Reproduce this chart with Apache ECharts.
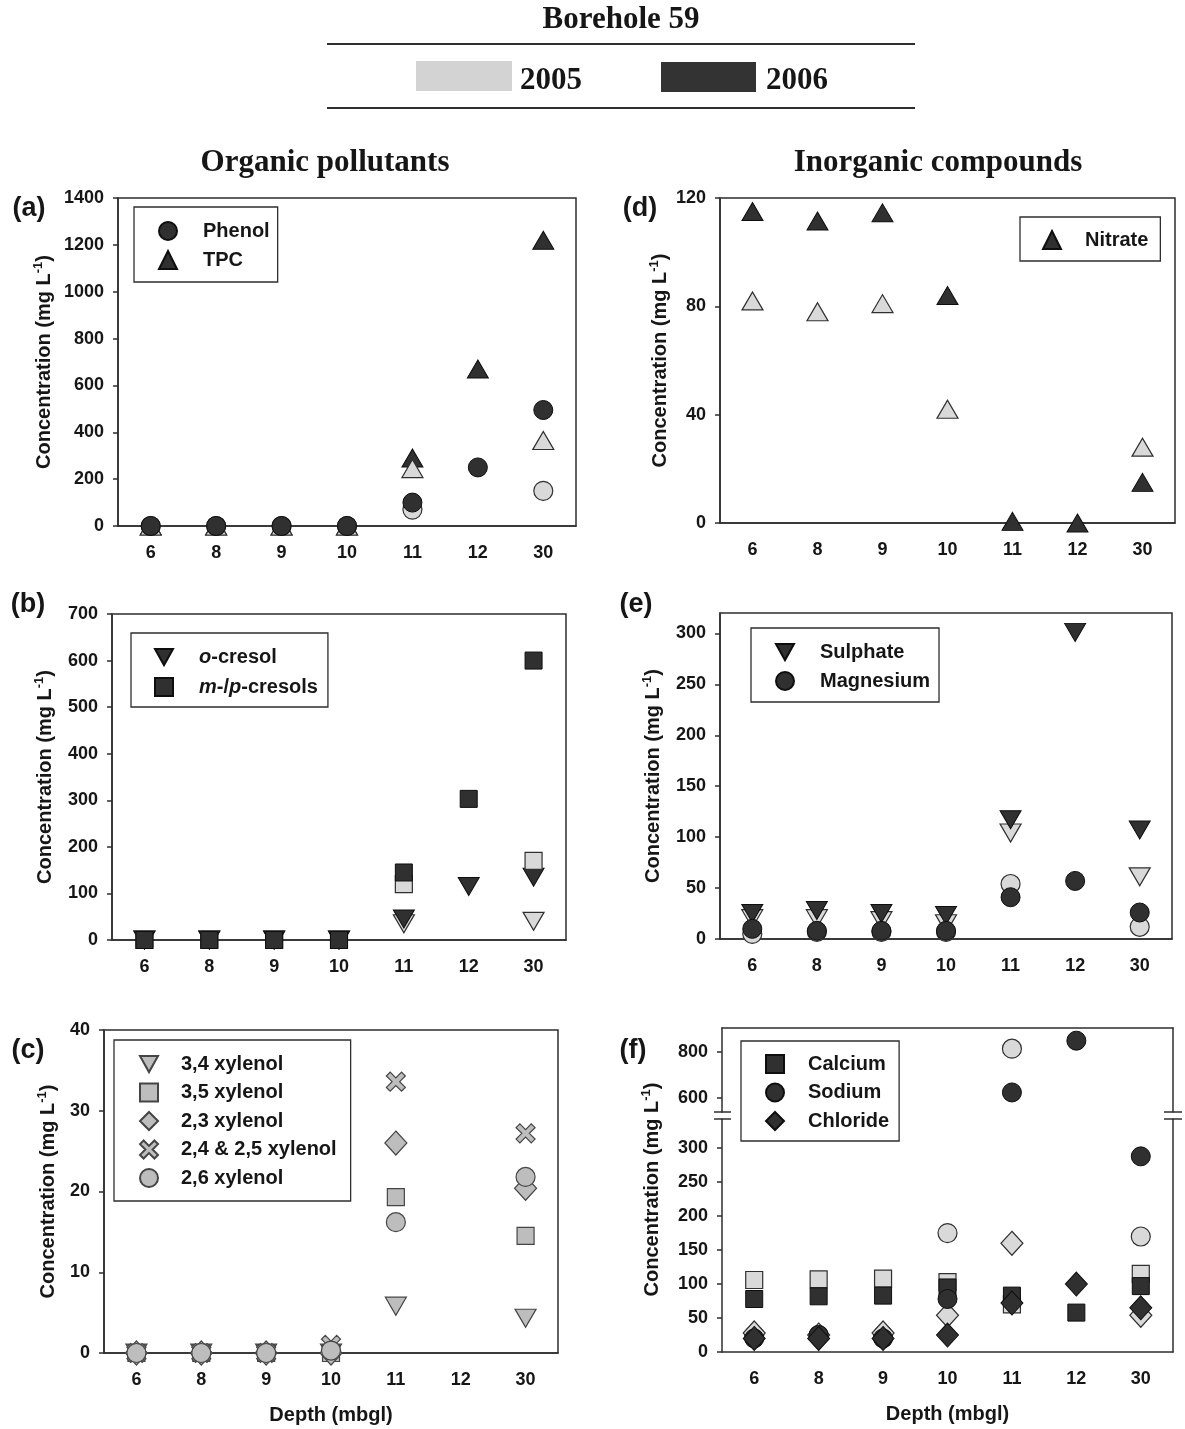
<!DOCTYPE html>
<html>
<head>
<meta charset="utf-8">
<title>Borehole 59</title>
<script src="https://cdn.jsdelivr.net/npm/echarts@6.0.0/dist/echarts.min.js"></script>
<style>
  html, body { margin: 0; padding: 0; background: #fff; }
  #chart { width: 1185px; height: 1429px; }
</style>
</head>
<body>
<div id="chart"></div>
<script>
// Borehole 59: concentrations (mg/L) by depth, 2005 (light) and 2006 (dark)
const depths = ['6', '8', '9', '10', '11', '12', '30'];
const years = ['2005', '2006'];

// (a) organic
const phenol2005 = [0, 0, 0, 0, 70, null, 150];
const phenol2006 = [0, 0, 0, 0, 100, 250, 495];
const tpc2005 = [0, 0, 0, 0, 245, null, 365];
const tpc2006 = [0, 0, 0, 0, 290, 670, 1220];

// (b)
const oCresol2005 = [0, 0, 0, 0, 35, null, 40];
const oCresol2006 = [0, 0, 0, 0, 45, 115, 135];
const mpCresol2005 = [0, 0, 0, 0, 120, null, 170];
const mpCresol2006 = [0, 0, 0, 0, 145, 303, 600];

// (c) xylenols
const xylenol34 = [0, 0, 0, 0, 5.8, null, 4.3];
const xylenol35 = [0, 0, 0, 0, 19.3, null, 14.5];
const xylenol23 = [0, 0, 0, 0, 26, null, 20.4];
const xylenol2425 = [0, 0, 0, 1, 33.6, null, 27.2];
const xylenol26 = [0, 0, 0, 0.3, 16.2, null, 21.8];

// (d) inorganic
const nitrate2005 = [82, 78, 81, 42, null, null, 28];
const nitrate2006 = [115, 111.5, 114.5, 84, 0.6, 0, 15];

// (e)
const sulphate2005 = [20, 20, 18, 15, 104, null, 61];
const sulphate2006 = [25, 28, 25, 23, 117, 301, 107];
const magnesium2005 = [5, 7, 7, 7, 54, null, 12];
const magnesium2006 = [10, 8, 8, 8, 41, 57, 26];

// (f)
const calcium2005 = [106, 107, 108, 103, 70, null, 115];
const calcium2006 = [78, 82, 83, 95, 83, 58, 97];
const sodium2005 = [25, 25, 25, 175, 815, null, 170];
const sodium2006 = [20, 25, 20, 78, 625, 850, 288];
const chloride2005 = [28, 25, 28, 54, 160, null, 54];
const chloride2006 = [20, 20, 20, 25, 72, 100, 65];

// tick labels
const ticksA = [0, 200, 400, 600, 800, 1000, 1200, 1400];
const ticksB = [0, 100, 200, 300, 400, 500, 600, 700];
const ticksC = [0, 10, 20, 30, 40];
const ticksD = [0, 40, 80, 120];
const ticksE = [0, 50, 100, 150, 200, 250, 300];
const ticksFLow = [0, 50, 100, 150, 200, 250, 300];
const ticksFHigh = [600, 800];

const SANS = '"Liberation Sans", Arial, sans-serif';
const SERIF = '"Liberation Serif", "Times New Roman", serif';
const AXIS = '#2e2e2e';
const TXT = '#161616';

const SHAPES = {
    circle: { symbol: 'circle', size: 19 },
    up: { symbol: 'triangle', size: [21, 18] },
    down: { symbol: 'path://M0,0 L20,0 L10,18 Z', size: [21, 18] },
    square: { symbol: 'rect', size: 17 },
    diamond: { symbol: 'diamond', size: [22, 24] },
    cross: { symbol: 'path://M0,2 L2,0 L5,3 L8,0 L10,2 L7,5 L10,8 L8,10 L5,7 L2,10 L0,8 L3,5 Z', size: 19 }
};
const TONES = {
    dark: { color: '#303030', borderColor: '#0e0e0e', borderWidth: 1, opacity: 1 },
    light: { color: '#d9d9d9', borderColor: '#303030', borderWidth: 1.2, opacity: 1 },
    mid: { color: '#bdbdbd', borderColor: '#454545', borderWidth: 1.2, opacity: 1 }
};

const grids = [], xAxes = [], yAxes = [], series = [], legends = [];
const lineStyle = { color: AXIS, width: 1.5 };
const tickFont = { fontSize: 18, fontWeight: 'bold', color: TXT, fontFamily: SANS };
const nameFont = {
    fontSize: 20, fontWeight: 'bold', color: TXT, fontFamily: SANS, lineHeight: 24,
    rich: { sup: { fontSize: 13, fontWeight: 'bold', fontFamily: SANS, color: TXT, verticalAlign: 'top', lineHeight: 14 } }
};
const Y_NAME = 'Concentration (mg L{sup|-1})';

function panel(p) {
    const gi = grids.length;
    grids.push({
        left: p.left, top: p.top, width: p.width, height: p.height,
        show: !p.open, borderColor: AXIS, borderWidth: 1.5
    });
    xAxes.push({
        gridIndex: gi, type: 'category', data: depths, position: p.xPos || 'bottom',
        axisLine: { show: true, onZero: false, lineStyle },
        axisTick: { show: false },
        axisLabel: Object.assign({ show: p.xLabels !== false, margin: 18 }, tickFont),
        splitLine: { show: false },
        name: p.xName || '', nameLocation: 'middle', nameGap: 52,
        nameTextStyle: { fontSize: 20, fontWeight: 'bold', color: TXT, fontFamily: SANS }
    });
    const yi = yAxes.length;
    yAxes.push({
        gridIndex: gi, type: 'value', position: 'left', min: p.min, max: p.max,
        axisLine: { show: true, lineStyle },
        axisTick: { show: true, inside: false, length: 5, customValues: p.ticks, lineStyle },
        axisLabel: Object.assign({ customValues: p.ticks, margin: 14, formatter: v => String(v) }, tickFont),
        splitLine: { show: false },
        name: p.yName ? Y_NAME : '', nameLocation: 'middle', nameGap: p.nameGap || 60,
        nameTextStyle: Object.assign({}, nameFont, p.namePad ? { padding: p.namePad } : {})
    });
    if (p.open) {
        // right-hand frame line for the broken panel
        yAxes.push({
            gridIndex: gi, type: 'value', position: 'right', min: p.min, max: p.max,
            axisLine: { show: true, lineStyle }, axisTick: { show: false },
            axisLabel: { show: false }, splitLine: { show: false }
        });
    }
    return { x: gi, y: yi };
}

function dots(name, data, ax, shape, tone) {
    const s = SHAPES[shape];
    return {
        type: 'scatter', name, data, xAxisIndex: ax.x, yAxisIndex: ax.y,
        symbol: s.symbol, symbolSize: s.size,
        itemStyle: TONES[tone], emphasis: { disabled: true }, silent: true
    };
}

function legendBox(names, left, top, pad, gap, textPad) {
    return {
        orient: 'vertical', left, top, padding: pad, itemGap: gap,
        itemWidth: 18, itemHeight: 18, borderColor: AXIS, borderWidth: 1.3,
        data: names, selectedMode: false,
        formatter: name => {
            if (name === 'o-cresol') return '{i|o}-cresol';
            if (name === 'm-/p-cresols') return '{i|m}-/{i|p}-cresols';
            return name;
        },
        textStyle: {
            fontSize: 20, fontWeight: 'bold', fontFamily: SANS, color: TXT,
            lineHeight: 18, padding: [0, 0, 0, textPad],
            rich: { i: { fontSize: 20, fontWeight: 'bold', fontStyle: 'italic', fontFamily: SANS, color: TXT } }
        }
    };
}

// (a)
const a = panel({ left: 118, top: 198, width: 458, height: 328, min: 0, max: 1400, ticks: ticksA, yName: true, nameGap: 62 });
series.push(
    dots('TPC', tpc2006, a, 'up', 'dark'),
    dots('TPC 2005', tpc2005, a, 'up', 'light'),
    dots('Phenol 2005', phenol2005, a, 'circle', 'light'),
    dots('Phenol', phenol2006, a, 'circle', 'dark')
);
legends.push(legendBox(['Phenol', 'TPC'], 134, 207, [14, 8, 12, 24], 9, 21));

// (b)
const b = panel({ left: 112, top: 614, width: 454, height: 326, min: 0, max: 700, ticks: ticksB, yName: true, nameGap: 55 });
series.push(
    dots('o-cresol 2005', oCresol2005, b, 'down', 'light'),
    dots('o-cresol', oCresol2006, b, 'down', 'dark'),
    dots('m-/p-cresols 2005', mpCresol2005, b, 'square', 'light'),
    dots('m-/p-cresols', mpCresol2006, b, 'square', 'dark')
);
legends.push(legendBox(['o-cresol', 'm-/p-cresols'], 131, 633, [14, 10, 10, 23], 10, 21));

// (c)
const c = panel({ left: 104, top: 1030, width: 454, height: 323, min: 0, max: 40, ticks: ticksC, yName: true, nameGap: 44, xName: 'Depth (mbgl)' });
series.push(
    dots('3,4 xylenol', xylenol34, c, 'down', 'mid'),
    dots('3,5 xylenol', xylenol35, c, 'square', 'mid'),
    dots('2,3 xylenol', xylenol23, c, 'diamond', 'mid'),
    dots('2,4 & 2,5 xylenol', xylenol2425, c, 'cross', 'mid'),
    dots('2,6 xylenol', xylenol26, c, 'circle', 'mid')
);
legends.push(legendBox(['3,4 xylenol', '3,5 xylenol', '2,3 xylenol', '2,4 & 2,5 xylenol', '2,6 xylenol'], 114, 1040, [14, 14, 13, 25], 8.5, 18));

// (d)
const d = panel({ left: 720, top: 198, width: 455, height: 325, min: 0, max: 120, ticks: ticksD, yName: true, nameGap: 48 });
series.push(
    dots('Nitrate 2005', nitrate2005, d, 'up', 'light'),
    dots('Nitrate', nitrate2006, d, 'up', 'dark')
);
legends.push(legendBox(['Nitrate'], 1020, 217, [13, 12, 11, 22], 10, 19));

// (e)
const e = panel({ left: 720, top: 613, width: 452, height: 326, min: 0, max: 320, ticks: ticksE, yName: true, nameGap: 55 });
series.push(
    dots('Sulphate 2005', sulphate2005, e, 'down', 'light'),
    dots('Sulphate', sulphate2006, e, 'down', 'dark'),
    dots('Magnesium 2005', magnesium2005, e, 'circle', 'light'),
    dots('Magnesium', magnesium2006, e, 'circle', 'dark')
);
legends.push(legendBox(['Sulphate', 'Magnesium'], 751, 628, [14, 9, 11, 24], 9, 21));

// (f) broken axis: upper and lower parts share the same categories
const F_LOW_MAX = 343, F_HIGH_MIN = 540;
const fHigh = panel({ left: 722, top: 1028, width: 451, height: 84, min: F_HIGH_MIN, max: 905, ticks: ticksFHigh, open: true, xPos: 'top', xLabels: false });
const fLow = panel({ left: 722, top: 1119, width: 451, height: 233, min: 0, max: F_LOW_MAX, ticks: ticksFLow, open: true, yName: true, nameGap: 58, namePad: [0, 0, 0, 92], xName: 'Depth (mbgl)' });
const lowPart = arr => arr.map(v => (v != null && v <= F_LOW_MAX ? v : null));
const highPart = arr => arr.map(v => (v != null && v >= F_HIGH_MIN ? v : null));
[
    ['Calcium 2005', calcium2005, 'square', 'light'],
    ['Sodium 2005', sodium2005, 'circle', 'light'],
    ['Chloride 2005', chloride2005, 'diamond', 'light'],
    ['Calcium', calcium2006, 'square', 'dark'],
    ['Sodium', sodium2006, 'circle', 'dark'],
    ['Chloride', chloride2006, 'diamond', 'dark']
].forEach(([name, arr, shape, tone]) => {
    series.push(dots(name, lowPart(arr), fLow, shape, tone));
    series.push(dots(name, highPart(arr), fHigh, shape, tone));
});
legends.push(legendBox(['Calcium', 'Sodium', 'Chloride'], 741, 1041, [13, 10, 10, 24], 8.5, 19));

function label(text, x, y, font) {
    return {
        type: 'text', x, y,
        style: { text, font, fill: TXT, textAlign: 'center', textVerticalAlign: 'middle', align: 'center', verticalAlign: 'middle' }
    };
}
function rule(x1, y1, x2, y2, w) {
    return { type: 'line', shape: { x1, y1, x2, y2 }, style: { stroke: AXIS, lineWidth: w || 1.5 } };
}
const PANEL_FONT = 'bold 27px ' + SANS;
const HEAD_FONT = 'bold 31px ' + SERIF;

const graphic = [
    label('Borehole 59', 621, 20, HEAD_FONT),
    rule(327, 44, 915, 44, 2),
    { type: 'rect', shape: { x: 416, y: 61, width: 96, height: 30 }, style: { fill: '#d3d3d3' } },
    label(years[0], 551, 81, HEAD_FONT),
    { type: 'rect', shape: { x: 661, y: 62, width: 95, height: 30 }, style: { fill: '#333' } },
    label(years[1], 797, 81, HEAD_FONT),
    rule(327, 108, 915, 108, 2),
    label('Organic pollutants', 325, 163, HEAD_FONT),
    label('Inorganic compounds', 938, 163, HEAD_FONT),
    label('(a)', 29, 209, PANEL_FONT),
    label('(b)', 28, 605, PANEL_FONT),
    label('(c)', 28, 1051, PANEL_FONT),
    label('(d)', 640, 209, PANEL_FONT),
    label('(e)', 636, 605, PANEL_FONT),
    label('(f)', 633, 1051, PANEL_FONT),
    // axis-break marks on panel (f)
    rule(714, 1112, 731, 1112, 1.5),
    rule(714, 1119, 731, 1119, 1.5),
    rule(1164, 1112, 1182, 1112, 1.5),
    rule(1164, 1119, 1182, 1119, 1.5)
];

const chart = echarts.init(document.getElementById('chart'), null, { renderer: 'canvas' });
chart.setOption({
    backgroundColor: '#fff',
    animation: false,
    grid: grids,
    xAxis: xAxes,
    yAxis: yAxes,
    legend: legends,
    series,
    graphic
});
</script>
</body>
</html>
